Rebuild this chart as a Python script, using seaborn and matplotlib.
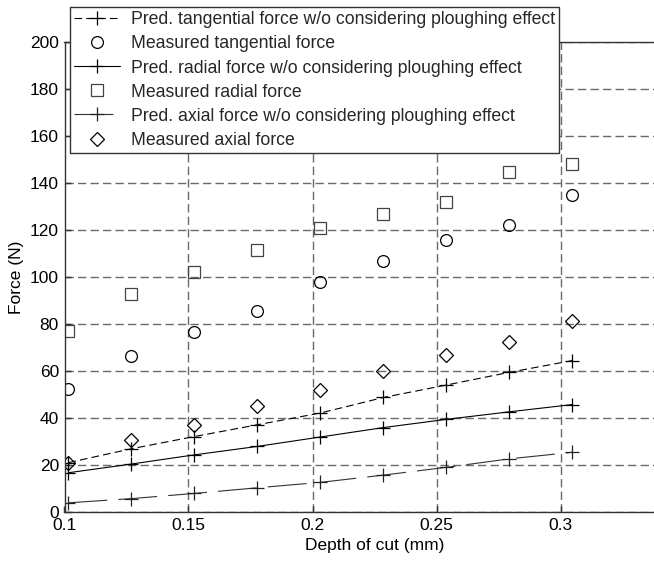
import matplotlib

matplotlib.use("Agg")
import matplotlib.pyplot as plt
import pandas as pd
import seaborn as sns
from matplotlib.ticker import FormatStrFormatter

# depth of cut (mm)
depth = [0.1016, 0.127, 0.1524, 0.1778, 0.2032, 0.2286, 0.254, 0.2794, 0.3048]

meas_tangential = [52.2, 66.4, 76.7, 85.3, 97.8, 106.6, 115.5, 121.9, 134.8]
meas_radial = [77.0, 92.6, 102.0, 111.6, 120.8, 126.8, 132.0, 144.4, 147.9]
meas_axial = [20.7, 30.7, 37.1, 45.0, 51.9, 60.0, 66.6, 72.3, 81.1]

pred_tangential = [21.0, 26.9, 32.1, 37.1, 42.1, 48.7, 54.0, 59.4, 64.4]
pred_radial = [16.7, 20.4, 24.3, 27.9, 31.9, 35.9, 39.4, 42.6, 45.7]
pred_axial = [3.9, 5.7, 7.9, 10.3, 12.6, 15.7, 19.0, 22.6, 25.4]

x_ticks = [0.1, 0.15, 0.2, 0.25, 0.3]
y_ticks = list(range(0, 201, 20))

labels = [
    "Pred. tangential force w/o considering ploughing effect",
    "Measured tangential force",
    "Pred. radial force w/o considering ploughing effect",
    "Measured radial force",
    "Pred. axial force w/o considering ploughing effect",
    "Measured axial force",
]


def main():
    sns.set_theme(style="white")
    plt.rcParams["font.family"] = ["Liberation Sans", "DejaVu Sans"]
    plt.rcParams["lines.scale_dashes"] = False

    df = pd.DataFrame({
        "depth": depth,
        "mt": meas_tangential, "mr": meas_radial, "ma": meas_axial,
        "pt": pred_tangential, "pr": pred_radial, "pa": pred_axial,
    })

    fig = plt.figure(figsize=(6.54, 5.61), dpi=100)
    ax = fig.add_axes([64.5 / 654, 1 - 512 / 561, 620 / 654, (512 - 41.7) / 561])

    pred_kw = dict(marker="+", markersize=9.5, markeredgewidth=0.9, linewidth=0.8)
    meas_kw = dict(linestyle="none", markerfacecolor="none", markeredgewidth=0.9)

    sns.lineplot(data=df, x="depth", y="pt", ax=ax, color="black",
                 markeredgecolor="black", linestyle=(0, (5.5, 3)),
                 label=labels[0], **pred_kw)
    sns.lineplot(data=df, x="depth", y="mt", ax=ax, marker="o", markersize=8.5,
                 markeredgecolor="black", label=labels[1], **meas_kw)
    sns.lineplot(data=df, x="depth", y="pr", ax=ax, color="black",
                 markeredgecolor="black", linestyle="-",
                 label=labels[2], **pred_kw)
    sns.lineplot(data=df, x="depth", y="mr", ax=ax, marker="s", markersize=8,
                 markeredgecolor="#444444", label=labels[3], **meas_kw)
    sns.lineplot(data=df, x="depth", y="pa", ax=ax, color="#333333",
                 markeredgecolor="#222222", linestyle=(0, (28, 8)),
                 label=labels[4], **pred_kw)
    sns.lineplot(data=df, x="depth", y="ma", ax=ax, marker="D", markersize=7.3,
                 markeredgecolor="black", label=labels[5], **meas_kw)

    ax.set_xlim(0.1, 0.35)
    ax.set_ylim(0, 200)
    ax.set_xticks(x_ticks)
    ax.set_yticks(y_ticks)
    ax.xaxis.set_major_formatter(FormatStrFormatter("%g"))
    ax.set_xlabel("Depth of cut (mm)", fontsize=12.5, color="black", labelpad=4)
    ax.set_ylabel("Force (N)", fontsize=12.5, color="black", labelpad=4)

    ax.set_axisbelow(True)
    ax.grid(True, linestyle=(0, (6, 3)), color="#6a6a6a", linewidth=1)
    ax.tick_params(direction="in", length=4, width=1, left=True, bottom=True,
                   labelsize=12.5, labelcolor="black", color="#333333", pad=4)
    for side in ["left", "bottom", "top", "right"]:
        ax.spines[side].set_color("#333333")
        ax.spines[side].set_linewidth(1)

    leg = ax.legend(loc="upper left", bbox_to_anchor=(70 / 654, 1 - 7 / 561),
                    bbox_transform=fig.transFigure, borderaxespad=0,
                    fontsize=12.7, frameon=True, fancybox=False, framealpha=1,
                    edgecolor="#333333", handlelength=2.6, handletextpad=0.6,
                    labelspacing=0.4, borderpad=0.25)
    leg.get_frame().set_linewidth(1)

    fig.savefig("out.png", dpi=100)
    plt.close(fig)


if __name__ == "__main__":
    main()
